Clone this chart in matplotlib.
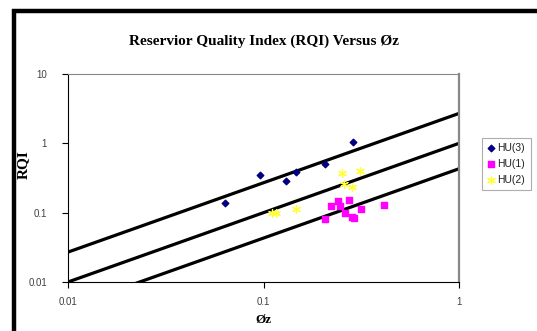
import matplotlib
matplotlib.use("Agg")
import matplotlib.pyplot as plt
import numpy as np
from matplotlib.lines import Line2D

# Data
hu3_phiz = [0.0635, 0.096, 0.130, 0.147, 0.206, 0.287]
hu3_rqi = [0.136, 0.345, 0.29, 0.38, 0.51, 1.03]

hu1_phiz = [0.206, 0.221, 0.240, 0.246, 0.261, 0.274, 0.284, 0.290, 0.315, 0.413]
hu1_rqi = [0.080, 0.123, 0.146, 0.123, 0.098, 0.150, 0.086, 0.083, 0.112, 0.127]

hu2_phiz = [0.110, 0.116, 0.147, 0.252, 0.258, 0.284, 0.312]
hu2_rqi = [0.098, 0.098, 0.112, 0.369, 0.256, 0.232, 0.394]

fzi_values = [2.7, 1.0, 0.43]
x_ticks = [0.01, 0.1, 1]
x_tick_labels = ["0.01", "0.1", "1"]
y_ticks = [0.01, 0.1, 1, 10]
y_tick_labels = ["0.01", "0.1", "1", "10"]

W, H = 537, 331
fig = plt.figure(figsize=(W/100, H/100), dpi=100)
fig.patch.set_facecolor("white")

ax = fig.add_axes([68/W, 1-282/H, (459-68)/W, (282-74)/H])
ax.set_xscale("log")
ax.set_yscale("log")
ax.set_xlim(0.01, 1)
ax.set_ylim(0.01, 10)

xx = np.array([0.01, 1.0])
for f in fzi_values:
    ax.plot(xx, f*xx, color="black", lw=2.3, solid_capstyle="butt", zorder=2)

ax.scatter(hu3_phiz, hu3_rqi, marker="D", s=11, color="#000080", zorder=3, label="HU(3)")
ax.scatter(hu1_phiz, hu1_rqi, marker="s", s=24, color="#FF00FF", zorder=3, label="HU(1)")
ax.scatter(hu2_phiz, hu2_rqi, marker=(6, 2, 0), s=32, color="#FFFF33", linewidths=0.9, zorder=3, label="HU(2)")

ax.set_xticks(x_ticks)
ax.set_xticklabels(x_tick_labels)
ax.set_yticks(y_ticks)
ax.set_yticklabels(y_tick_labels)
ax.minorticks_off()
ax.tick_params(axis="both", which="major", length=4, width=0.8, direction="out",
               labelsize=7, colors="black")
ax.tick_params(axis="y", pad=11)
ax.tick_params(axis="x", pad=7)
for lab in ax.get_xticklabels() + ax.get_yticklabels():
    lab.set_family("Liberation Sans")
    lab.set_color("#404040")

ax.spines["left"].set_color("black")
ax.spines["bottom"].set_color("black")
ax.spines["left"].set_linewidth(0.8)
ax.spines["bottom"].set_linewidth(0.8)
ax.spines["top"].set_color("#888888")
ax.spines["top"].set_linewidth(0.8)
ax.spines["right"].set_color("#888888")
ax.spines["right"].set_linewidth(1.6)

fig.text(264/W, 1-41/H, "Reservior Quality Index (RQI) Versus \u00D8z",
         ha="center", va="center", family="Liberation Serif", weight="bold", fontsize=11)
fig.text(263/W, 1-320/H, "\u00D8z", ha="center", va="center",
         family="Liberation Serif", weight="bold", fontsize=9.5)
fig.text(23/W, 1-165/H, "RQI", ha="center", va="center", rotation=90,
         family="Liberation Serif", weight="bold", fontsize=11)

leg = fig.legend(loc="upper left", bbox_to_anchor=(482/W, 1-138/H),
                 frameon=True, fancybox=False, handlelength=0.7,
                 handletextpad=0.3, borderpad=0.5, labelspacing=0.55, borderaxespad=0,
                 prop={"family": "Liberation Sans", "size": 7.5})
leg.get_frame().set_edgecolor("#999999")
leg.get_frame().set_linewidth(0.8)
for t in leg.get_texts():
    t.set_color("#202020")

# thick black border on left and top
fig.add_artist(Line2D([14/W, 14/W], [0, 1-9/H], color="black", lw=3.2,
                      transform=fig.transFigure, solid_capstyle="butt"))
fig.add_artist(Line2D([12/W, 1], [1-11/H, 1-11/H], color="black", lw=3.2,
                      transform=fig.transFigure, solid_capstyle="butt"))

fig.savefig("out.png", dpi=100, facecolor="white")
